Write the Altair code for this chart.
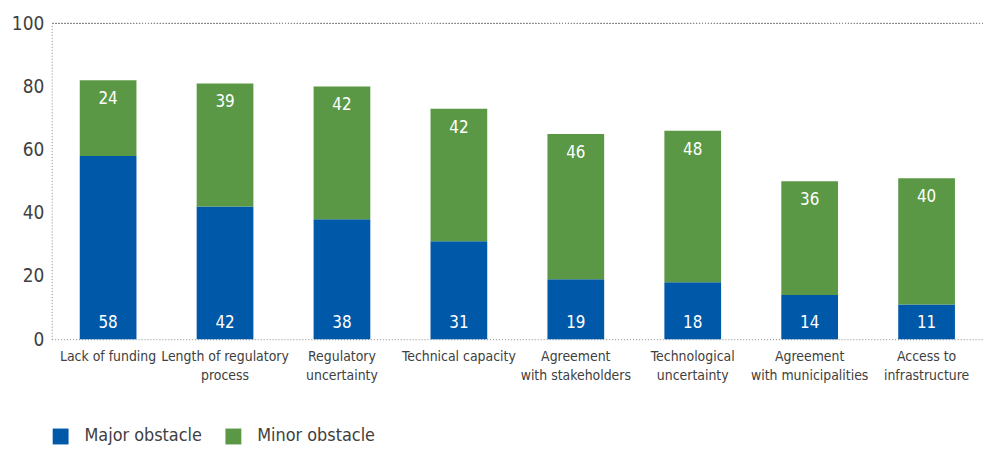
import altair as alt
import pandas as pd

categories = ["Lack of funding", "Length of regulatory|process", "Regulatory|uncertainty",
              "Technical capacity", "Agreement|with stakeholders", "Technological|uncertainty",
              "Agreement|with municipalities", "Access to|infrastructure"]
major = [58, 42, 38, 31, 19, 18, 14, 11]
minor = [24, 39, 42, 42, 46, 48, 36, 40]
series = ["Major obstacle", "Minor obstacle"]
colors = ["#0058A8", "#5B9845"]
y_ticks = [0, 20, 40, 60, 80, 100]

rows = []
for c, a, b in zip(categories, major, minor):
    rows.append({"cat": c, "series": series[0], "value": a, "ord": 0})
    rows.append({"cat": c, "series": series[1], "value": b, "ord": 1})
long = pd.DataFrame(rows)
wide = pd.DataFrame({"cat": categories, "major": major, "minor": minor})

FONT = "'DejaVu Sans Condensed', 'Roboto Condensed', 'Liberation Sans Narrow', Roboto, sans-serif"
TXT = "#404040"

x_enc = alt.X("cat:N", sort=categories, title=None,
              scale=alt.Scale(paddingInner=0.515, paddingOuter=0.24),
              axis=alt.Axis(labelAngle=0, labelExpr="split(datum.label, '|')",
                            labelFont=FONT, labelFontSize=14, labelColor=TXT,
                            labelPadding=10, labelLineHeight=20, ticks=False,
                            domainColor="#888888", domainDash=[1, 2], domainWidth=1,
                            labelBaseline="top"))

bars = alt.Chart(long).mark_bar().encode(
    x=x_enc,
    y=alt.Y("value:Q", stack="zero", title=None,
            scale=alt.Scale(domain=[0, 100], nice=False),
            axis=alt.Axis(values=y_ticks, ticks=False, grid=False, labelFont=FONT,
                          labelFontSize=19, labelColor=TXT, labelPadding=8,
                          domainColor="#888888", domainDash=[1, 2], domainWidth=1)),
    color=alt.Color("series:N", scale=alt.Scale(domain=series, range=colors),
                    legend=alt.Legend(title=None, orient="none", legendX=0, legendY=407,
                                      direction="horizontal", symbolType="square",
                                      symbolSize=256, symbolStrokeWidth=0,
                                      symbolOpacity=1, labelFont=FONT,
                                      labelFontSize=18, labelColor=TXT, labelOffset=15,
                                      columnPadding=22, labelLimit=300)),
    order=alt.Order("ord:Q", sort="ascending"),
)

top_rule = alt.Chart(wide).mark_rule(color="#888888", strokeDash=[1, 2], strokeWidth=1).encode(
    y=alt.datum(100)
)

major_text = alt.Chart(wide).mark_text(color="white", font=FONT, fontSize=17,
                                       baseline="middle").encode(
    x=alt.X("cat:N", sort=categories),
    y=alt.value(302),
    text="major:Q",
)

minor_text = alt.Chart(wide).transform_calculate(total="datum.major + datum.minor").mark_text(
    color="white", font=FONT, fontSize=17, baseline="middle", dy=19).encode(
    x=alt.X("cat:N", sort=categories),
    y=alt.Y("total:Q"),
    text="minor:Q",
)

chart = alt.layer(top_rule, bars, major_text, minor_text).properties(
    width=938, height=318,
    autosize=alt.AutoSizeParams(type="none"),
    padding={"left": 44, "top": 14, "right": 0, "bottom": 105},
).configure_view(stroke=None)

chart.save("out.html", embed_options={"renderer": "svg", "actions": False})
